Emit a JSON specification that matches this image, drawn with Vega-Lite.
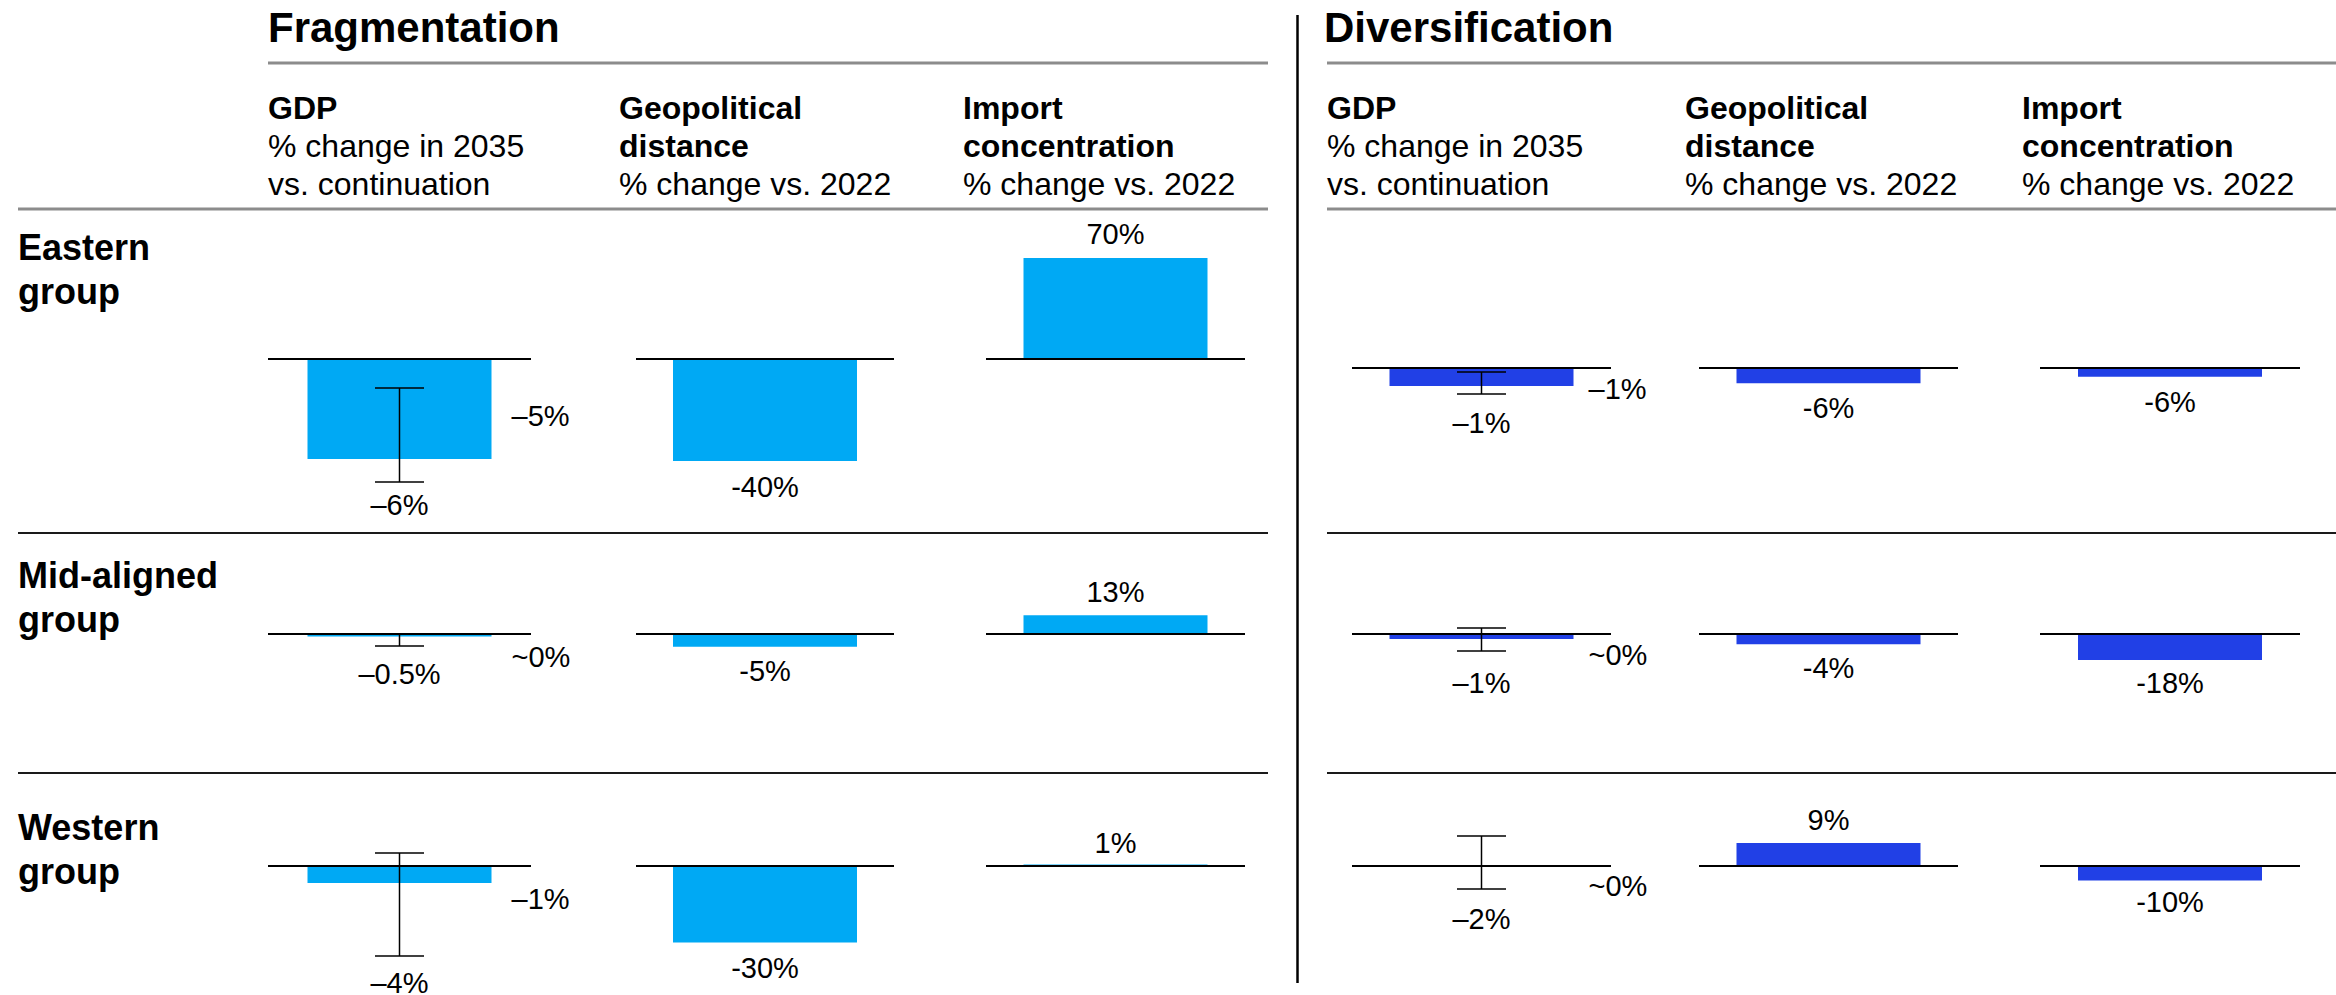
{
"$schema": "https://vega.github.io/schema/vega-lite/v6.json",
"padding": {"left": 16, "top": 0, "right": 0, "bottom": 0},
"columns": 15,
"spacing": 0,
"bounds": "flush",
"align": "each",
"config": {
  "font": "Liberation Sans",
  "view": {"stroke": null},
  "concat": {"spacing": 0},
  "title": {"anchor": "start", "frame": "group", "orient": "top", "font": "Liberation Sans", "subtitleFont": "Liberation Sans", "fontSize": 32, "fontWeight": "bold", "lineHeight": 38, "subtitleFontSize": 32, "subtitleLineHeight": 38, "subtitlePadding": 6, "color": "black", "subtitleColor": "black", "offset": 6}
},
"datasets": {
  "cells": [
    {"panel": "Fragmentation", "group": "Eastern group", "metric": "GDP", "value": -5, "lo": -6.15, "hi": -1.45, "label": "–5%", "lo_label": "–6%"},
    {"panel": "Fragmentation", "group": "Eastern group", "metric": "Geopolitical distance", "value": -40, "label": "-40%"},
    {"panel": "Fragmentation", "group": "Eastern group", "metric": "Import concentration", "value": 70, "label": "70%"},
    {"panel": "Fragmentation", "group": "Mid-aligned group", "metric": "GDP", "value": -0.12, "lo": -0.6, "hi": 0, "label": "~0%", "lo_label": "–0.5%"},
    {"panel": "Fragmentation", "group": "Mid-aligned group", "metric": "Geopolitical distance", "value": -5, "label": "-5%"},
    {"panel": "Fragmentation", "group": "Mid-aligned group", "metric": "Import concentration", "value": 13, "label": "13%"},
    {"panel": "Fragmentation", "group": "Western group", "metric": "GDP", "value": -0.85, "lo": -4.5, "hi": 0.65, "label": "–1%", "lo_label": "–4%"},
    {"panel": "Fragmentation", "group": "Western group", "metric": "Geopolitical distance", "value": -30, "label": "-30%"},
    {"panel": "Fragmentation", "group": "Western group", "metric": "Import concentration", "value": 1, "label": "1%"},
    {"panel": "Diversification", "group": "Eastern group", "metric": "GDP", "value": -0.9, "lo": -1.3, "hi": -0.2, "label": "–1%", "lo_label": "–1%"},
    {"panel": "Diversification", "group": "Eastern group", "metric": "Geopolitical distance", "value": -6, "label": "-6%"},
    {"panel": "Diversification", "group": "Eastern group", "metric": "Import concentration", "value": -6, "label": "-6%"},
    {"panel": "Diversification", "group": "Mid-aligned group", "metric": "GDP", "value": -0.25, "lo": -0.85, "hi": 0.3, "label": "~0%", "lo_label": "–1%"},
    {"panel": "Diversification", "group": "Mid-aligned group", "metric": "Geopolitical distance", "value": -4, "label": "-4%"},
    {"panel": "Diversification", "group": "Mid-aligned group", "metric": "Import concentration", "value": -18, "label": "-18%"},
    {"panel": "Diversification", "group": "Western group", "metric": "GDP", "value": -0.05, "lo": -1.15, "hi": 1.5, "label": "~0%", "lo_label": "–2%"},
    {"panel": "Diversification", "group": "Western group", "metric": "Geopolitical distance", "value": 9, "label": "9%"},
    {"panel": "Diversification", "group": "Western group", "metric": "Import concentration", "value": -10, "label": "-10%"}
  ]
},
"concat": [
  {"width": 250, "height": 15, "data": {"values": []}, "mark": "point"},
  {"width": 263, "height": 15, "data": {"values": []}, "mark": "point"},
  {"width": 105, "height": 15, "data": {"values": []}, "mark": "point"},
  {"width": 258, "height": 15, "data": {"values": []}, "mark": "point"},
  {"width": 92, "height": 15, "data": {"values": []}, "mark": "point"},
  {"width": 259, "height": 15, "data": {"values": []}, "mark": "point"},
  {"width": 23, "height": 15, "data": {"values": []}, "mark": "point"},
  {"width": 59, "height": 15, "data": {"values": []}, "mark": "point"},
  {"width": 25, "height": 15, "data": {"values": []}, "mark": "point"},
  {"width": 259, "height": 15, "data": {"values": []}, "mark": "point"},
  {"width": 88, "height": 15, "data": {"values": []}, "mark": "point"},
  {"width": 259, "height": 15, "data": {"values": []}, "mark": "point"},
  {"width": 82, "height": 15, "data": {"values": []}, "mark": "point"},
  {"width": 260, "height": 15, "data": {"values": []}, "mark": "point"},
  {"width": 38, "height": 15, "data": {"values": []}, "mark": "point"},

  {"width": 250, "height": 48, "data": {"values": []}, "mark": "point"},
  {"width": 263, "height": 48, "data": {"values": []}, "mark": "point"},
  {"width": 105, "height": 48, "data": {"values": []}, "mark": "point"},
  {"width": 258, "height": 48, "data": {"values": []}, "mark": "point"},
  {"width": 92, "height": 48, "data": {"values": []}, "mark": "point"},
  {"width": 259, "height": 48, "data": {"values": []}, "mark": "point"},
  {"width": 23, "height": 48, "data": {"values": []}, "mark": "point"},
  {"width": 59, "height": 48, "data": {"values": [{}]}, "mark": {"type": "rule", "color": "black", "strokeWidth": 2.5}, "encoding": {"x": {"datum": "divider", "type": "nominal", "axis": null}}},
  {"width": 25, "height": 48, "data": {"values": []}, "mark": "point"},
  {"width": 259, "height": 48, "data": {"values": []}, "mark": "point"},
  {"width": 88, "height": 48, "data": {"values": []}, "mark": "point"},
  {"width": 259, "height": 48, "data": {"values": []}, "mark": "point"},
  {"width": 82, "height": 48, "data": {"values": []}, "mark": "point"},
  {"width": 260, "height": 48, "data": {"values": []}, "mark": "point"},
  {"width": 38, "height": 48, "data": {"values": []}, "mark": "point"},

  {"width": 250, "height": 146, "data": {"values": []}, "mark": "point"},
  {"width": 263, "height": 146, "data": {"values": [{}]}, "title": {"text": "Fragmentation", "fontSize": 42, "offset": 11}, "mark": {"type": "rule", "color": "#8c8c8c", "strokeWidth": 3}, "encoding": {"y": {"datum": 1, "type": "quantitative", "scale": {"domain": [0, 1]}, "axis": null}}},
  {"width": 105, "height": 146, "data": {"values": [{}]}, "mark": {"type": "rule", "color": "#8c8c8c", "strokeWidth": 3}, "encoding": {"y": {"datum": 1, "type": "quantitative", "scale": {"domain": [0, 1]}, "axis": null}}},
  {"width": 258, "height": 146, "data": {"values": [{}]}, "mark": {"type": "rule", "color": "#8c8c8c", "strokeWidth": 3}, "encoding": {"y": {"datum": 1, "type": "quantitative", "scale": {"domain": [0, 1]}, "axis": null}}},
  {"width": 92, "height": 146, "data": {"values": [{}]}, "mark": {"type": "rule", "color": "#8c8c8c", "strokeWidth": 3}, "encoding": {"y": {"datum": 1, "type": "quantitative", "scale": {"domain": [0, 1]}, "axis": null}}},
  {"width": 259, "height": 146, "data": {"values": [{}]}, "mark": {"type": "rule", "color": "#8c8c8c", "strokeWidth": 3}, "encoding": {"y": {"datum": 1, "type": "quantitative", "scale": {"domain": [0, 1]}, "axis": null}}},
  {"width": 23, "height": 146, "data": {"values": [{}]}, "mark": {"type": "rule", "color": "#8c8c8c", "strokeWidth": 3}, "encoding": {"y": {"datum": 1, "type": "quantitative", "scale": {"domain": [0, 1]}, "axis": null}}},
  {"width": 59, "height": 146, "data": {"values": [{}]}, "mark": {"type": "rule", "color": "black", "strokeWidth": 2.5}, "encoding": {"x": {"datum": "divider", "type": "nominal", "axis": null}}},
  {"width": 25, "height": 146, "data": {"values": [{}]}, "title": {"text": "Diversification", "fontSize": 42, "offset": 11, "dx": -3}, "mark": {"type": "rule", "color": "#8c8c8c", "strokeWidth": 3}, "encoding": {"y": {"datum": 1, "type": "quantitative", "scale": {"domain": [0, 1]}, "axis": null}}},
  {"width": 259, "height": 146, "data": {"values": [{}]}, "mark": {"type": "rule", "color": "#8c8c8c", "strokeWidth": 3}, "encoding": {"y": {"datum": 1, "type": "quantitative", "scale": {"domain": [0, 1]}, "axis": null}}},
  {"width": 88, "height": 146, "data": {"values": [{}]}, "mark": {"type": "rule", "color": "#8c8c8c", "strokeWidth": 3}, "encoding": {"y": {"datum": 1, "type": "quantitative", "scale": {"domain": [0, 1]}, "axis": null}}},
  {"width": 259, "height": 146, "data": {"values": [{}]}, "mark": {"type": "rule", "color": "#8c8c8c", "strokeWidth": 3}, "encoding": {"y": {"datum": 1, "type": "quantitative", "scale": {"domain": [0, 1]}, "axis": null}}},
  {"width": 82, "height": 146, "data": {"values": [{}]}, "mark": {"type": "rule", "color": "#8c8c8c", "strokeWidth": 3}, "encoding": {"y": {"datum": 1, "type": "quantitative", "scale": {"domain": [0, 1]}, "axis": null}}},
  {"width": 260, "height": 146, "data": {"values": [{}]}, "mark": {"type": "rule", "color": "#8c8c8c", "strokeWidth": 3}, "encoding": {"y": {"datum": 1, "type": "quantitative", "scale": {"domain": [0, 1]}, "axis": null}}},
  {"width": 38, "height": 146, "data": {"values": [{}]}, "mark": {"type": "rule", "color": "#8c8c8c", "strokeWidth": 3}, "encoding": {"y": {"datum": 1, "type": "quantitative", "scale": {"domain": [0, 1]}, "axis": null}}},

  {"width": 250, "height": 324, "data": {"values": [{}]}, "title": {"text": ["Eastern", "group"], "fontSize": 36, "lineHeight": 44, "offset": -104}, "mark": {"type": "rule", "color": "#8c8c8c", "strokeWidth": 3}, "encoding": {"y": {"datum": 1, "type": "quantitative", "scale": {"domain": [0, 1]}, "axis": null}}},
  {"width": 263, "height": 324, "data": {"name": "cells"},
   "transform": [{"filter": "datum.panel==='Fragmentation' && datum.group==='Eastern group' && datum.metric==='GDP'"}],
   "title": {"text": "GDP", "subtitle": ["% change in 2035", "vs. continuation"]},
   "layer": [
    {"mark": {"type": "rule", "color": "#8c8c8c", "strokeWidth": 3}, "encoding": {"y": {"datum": 7.5, "type": "quantitative", "scale": {"domain": [-8.7, 7.5], "nice": false, "zero": false}, "axis": null}}},
    {"mark": {"type": "bar", "color": "#00A9F4", "width": 184}, "encoding": {"x": {"field": "metric", "type": "nominal", "axis": null}, "y": {"field": "value", "type": "quantitative", "scale": {"domain": [-8.7, 7.5], "nice": false, "zero": false}, "axis": null}, "y2": {"datum": 0}}},
    {"mark": {"type": "rule", "color": "black", "strokeWidth": 2}, "encoding": {"y": {"datum": 0, "type": "quantitative", "scale": {"domain": [-8.7, 7.5], "nice": false, "zero": false}, "axis": null}}},
    {"mark": {"type": "rule", "color": "black", "strokeWidth": 1.5}, "encoding": {"x": {"field": "metric", "type": "nominal", "axis": null}, "y": {"field": "lo", "type": "quantitative", "scale": {"domain": [-8.7, 7.5], "nice": false, "zero": false}, "axis": null}, "y2": {"field": "hi"}}},
    {"mark": {"type": "tick", "color": "black", "opacity": 1, "size": 49, "thickness": 1.5, "orient": "horizontal"}, "encoding": {"x": {"field": "metric", "type": "nominal", "axis": null}, "y": {"field": "lo", "type": "quantitative", "scale": {"domain": [-8.7, 7.5], "nice": false, "zero": false}, "axis": null}}},
    {"mark": {"type": "tick", "color": "black", "opacity": 1, "size": 49, "thickness": 1.5, "orient": "horizontal"}, "encoding": {"x": {"field": "metric", "type": "nominal", "axis": null}, "y": {"field": "hi", "type": "quantitative", "scale": {"domain": [-8.7, 7.5], "nice": false, "zero": false}, "axis": null}}},
    {"mark": {"type": "text", "color": "black", "fontSize": 29, "baseline": "alphabetic", "dy": 33}, "encoding": {"x": {"field": "metric", "type": "nominal", "axis": null}, "y": {"field": "lo", "type": "quantitative", "scale": {"domain": [-8.7, 7.5], "nice": false, "zero": false}, "axis": null}, "text": {"field": "lo_label"}}},
    {"mark": {"type": "text", "color": "black", "fontSize": 29, "align": "left", "baseline": "middle", "dx": 112, "dy": -42}, "encoding": {"x": {"field": "metric", "type": "nominal", "axis": null}, "y": {"field": "value", "type": "quantitative", "scale": {"domain": [-8.7, 7.5], "nice": false, "zero": false}, "axis": null}, "text": {"field": "label"}}}
   ]},
  {"width": 105, "height": 324, "data": {"values": [{}]}, "mark": {"type": "rule", "color": "#8c8c8c", "strokeWidth": 3}, "encoding": {"y": {"datum": 1, "type": "quantitative", "scale": {"domain": [0, 1]}, "axis": null}}},
  {"width": 258, "height": 324, "data": {"name": "cells"},
   "transform": [{"filter": "datum.panel==='Fragmentation' && datum.group==='Eastern group' && datum.metric==='Geopolitical distance'"}],
   "title": {"text": ["Geopolitical", "distance"], "subtitle": "% change vs. 2022", "dx": -17},
   "layer": [
    {"mark": {"type": "rule", "color": "#8c8c8c", "strokeWidth": 3}, "encoding": {"y": {"datum": 58.824, "type": "quantitative", "scale": {"domain": [-68.235, 58.824], "nice": false, "zero": false}, "axis": null}}},
    {"mark": {"type": "bar", "color": "#00A9F4", "width": 184}, "encoding": {"x": {"field": "metric", "type": "nominal", "axis": null}, "y": {"field": "value", "type": "quantitative", "scale": {"domain": [-68.235, 58.824], "nice": false, "zero": false}, "axis": null}, "y2": {"datum": 0}}},
    {"mark": {"type": "rule", "color": "black", "strokeWidth": 2}, "encoding": {"y": {"datum": 0, "type": "quantitative", "scale": {"domain": [-68.235, 58.824], "nice": false, "zero": false}, "axis": null}}},
    {"mark": {"type": "text", "color": "black", "fontSize": 29, "baseline": "alphabetic", "dy": 36}, "encoding": {"x": {"field": "metric", "type": "nominal", "axis": null}, "y": {"field": "value", "type": "quantitative", "scale": {"domain": [-68.235, 58.824], "nice": false, "zero": false}, "axis": null}, "text": {"field": "label"}}}
   ]},
  {"width": 92, "height": 324, "data": {"values": [{}]}, "mark": {"type": "rule", "color": "#8c8c8c", "strokeWidth": 3}, "encoding": {"y": {"datum": 1, "type": "quantitative", "scale": {"domain": [0, 1]}, "axis": null}}},
  {"width": 259, "height": 324, "data": {"name": "cells"},
   "transform": [{"filter": "datum.panel==='Fragmentation' && datum.group==='Eastern group' && datum.metric==='Import concentration'"}],
   "title": {"text": ["Import", "concentration"], "subtitle": "% change vs. 2022", "dx": -23},
   "layer": [
    {"mark": {"type": "rule", "color": "#8c8c8c", "strokeWidth": 3}, "encoding": {"y": {"datum": 103.96, "type": "quantitative", "scale": {"domain": [-120.59, 103.96], "nice": false, "zero": false}, "axis": null}}},
    {"mark": {"type": "bar", "color": "#00A9F4", "width": 184}, "encoding": {"x": {"field": "metric", "type": "nominal", "axis": null}, "y": {"field": "value", "type": "quantitative", "scale": {"domain": [-120.59, 103.96], "nice": false, "zero": false}, "axis": null}, "y2": {"datum": 0}}},
    {"mark": {"type": "rule", "color": "black", "strokeWidth": 2}, "encoding": {"y": {"datum": 0, "type": "quantitative", "scale": {"domain": [-120.59, 103.96], "nice": false, "zero": false}, "axis": null}}},
    {"mark": {"type": "text", "color": "black", "fontSize": 29, "baseline": "alphabetic", "dy": -14}, "encoding": {"x": {"field": "metric", "type": "nominal", "axis": null}, "y": {"field": "value", "type": "quantitative", "scale": {"domain": [-120.59, 103.96], "nice": false, "zero": false}, "axis": null}, "text": {"field": "label"}}}
   ]},
  {"width": 23, "height": 324, "data": {"values": [{}]}, "mark": {"type": "rule", "color": "#8c8c8c", "strokeWidth": 3}, "encoding": {"y": {"datum": 1, "type": "quantitative", "scale": {"domain": [0, 1]}, "axis": null}}},
  {"width": 59, "height": 324, "data": {"values": [{}]}, "mark": {"type": "rule", "color": "black", "strokeWidth": 2.5}, "encoding": {"x": {"datum": "divider", "type": "nominal", "axis": null}}},
  {"width": 25, "height": 324, "data": {"values": [{}]}, "mark": {"type": "rule", "color": "#8c8c8c", "strokeWidth": 3}, "encoding": {"y": {"datum": 1, "type": "quantitative", "scale": {"domain": [0, 1]}, "axis": null}}},
  {"width": 259, "height": 324, "data": {"name": "cells"},
   "transform": [{"filter": "datum.panel==='Diversification' && datum.group==='Eastern group' && datum.metric==='GDP'"}],
   "title": {"text": "GDP", "subtitle": ["% change in 2035", "vs. continuation"], "dx": -25},
   "layer": [
    {"mark": {"type": "rule", "color": "#8c8c8c", "strokeWidth": 3}, "encoding": {"y": {"datum": 7.95, "type": "quantitative", "scale": {"domain": [-8.25, 7.95], "nice": false, "zero": false}, "axis": null}}},
    {"mark": {"type": "bar", "color": "#2140E6", "width": 184}, "encoding": {"x": {"field": "metric", "type": "nominal", "axis": null}, "y": {"field": "value", "type": "quantitative", "scale": {"domain": [-8.25, 7.95], "nice": false, "zero": false}, "axis": null}, "y2": {"datum": 0}}},
    {"mark": {"type": "rule", "color": "black", "strokeWidth": 2}, "encoding": {"y": {"datum": 0, "type": "quantitative", "scale": {"domain": [-8.25, 7.95], "nice": false, "zero": false}, "axis": null}}},
    {"mark": {"type": "rule", "color": "black", "strokeWidth": 1.5}, "encoding": {"x": {"field": "metric", "type": "nominal", "axis": null}, "y": {"field": "lo", "type": "quantitative", "scale": {"domain": [-8.25, 7.95], "nice": false, "zero": false}, "axis": null}, "y2": {"field": "hi"}}},
    {"mark": {"type": "tick", "color": "black", "opacity": 1, "size": 49, "thickness": 1.5, "orient": "horizontal"}, "encoding": {"x": {"field": "metric", "type": "nominal", "axis": null}, "y": {"field": "lo", "type": "quantitative", "scale": {"domain": [-8.25, 7.95], "nice": false, "zero": false}, "axis": null}}},
    {"mark": {"type": "tick", "color": "black", "opacity": 1, "size": 49, "thickness": 1.5, "orient": "horizontal"}, "encoding": {"x": {"field": "metric", "type": "nominal", "axis": null}, "y": {"field": "hi", "type": "quantitative", "scale": {"domain": [-8.25, 7.95], "nice": false, "zero": false}, "axis": null}}},
    {"mark": {"type": "text", "color": "black", "fontSize": 29, "baseline": "alphabetic", "dy": 39}, "encoding": {"x": {"field": "metric", "type": "nominal", "axis": null}, "y": {"field": "lo", "type": "quantitative", "scale": {"domain": [-8.25, 7.95], "nice": false, "zero": false}, "axis": null}, "text": {"field": "lo_label"}}},
    {"mark": {"type": "text", "color": "black", "fontSize": 29, "align": "left", "baseline": "middle", "dx": 107, "dy": 4}, "encoding": {"x": {"field": "metric", "type": "nominal", "axis": null}, "y": {"field": "value", "type": "quantitative", "scale": {"domain": [-8.25, 7.95], "nice": false, "zero": false}, "axis": null}, "text": {"field": "label"}}}
   ]},
  {"width": 88, "height": 324, "data": {"values": [{}]}, "mark": {"type": "rule", "color": "#8c8c8c", "strokeWidth": 3}, "encoding": {"y": {"datum": 1, "type": "quantitative", "scale": {"domain": [0, 1]}, "axis": null}}},
  {"width": 259, "height": 324, "data": {"name": "cells"},
   "transform": [{"filter": "datum.panel==='Diversification' && datum.group==='Eastern group' && datum.metric==='Geopolitical distance'"}],
   "title": {"text": ["Geopolitical", "distance"], "subtitle": "% change vs. 2022", "dx": -14},
   "layer": [
    {"mark": {"type": "rule", "color": "#8c8c8c", "strokeWidth": 3}, "encoding": {"y": {"datum": 62.353, "type": "quantitative", "scale": {"domain": [-64.706, 62.353], "nice": false, "zero": false}, "axis": null}}},
    {"mark": {"type": "bar", "color": "#2140E6", "width": 184}, "encoding": {"x": {"field": "metric", "type": "nominal", "axis": null}, "y": {"field": "value", "type": "quantitative", "scale": {"domain": [-64.706, 62.353], "nice": false, "zero": false}, "axis": null}, "y2": {"datum": 0}}},
    {"mark": {"type": "rule", "color": "black", "strokeWidth": 2}, "encoding": {"y": {"datum": 0, "type": "quantitative", "scale": {"domain": [-64.706, 62.353], "nice": false, "zero": false}, "axis": null}}},
    {"mark": {"type": "text", "color": "black", "fontSize": 29, "baseline": "alphabetic", "dy": 35}, "encoding": {"x": {"field": "metric", "type": "nominal", "axis": null}, "y": {"field": "value", "type": "quantitative", "scale": {"domain": [-64.706, 62.353], "nice": false, "zero": false}, "axis": null}, "text": {"field": "label"}}}
   ]},
  {"width": 82, "height": 324, "data": {"values": [{}]}, "mark": {"type": "rule", "color": "#8c8c8c", "strokeWidth": 3}, "encoding": {"y": {"datum": 1, "type": "quantitative", "scale": {"domain": [0, 1]}, "axis": null}}},
  {"width": 260, "height": 324, "data": {"name": "cells"},
   "transform": [{"filter": "datum.panel==='Diversification' && datum.group==='Eastern group' && datum.metric==='Import concentration'"}],
   "title": {"text": ["Import", "concentration"], "subtitle": "% change vs. 2022", "dx": -18},
   "layer": [
    {"mark": {"type": "rule", "color": "#8c8c8c", "strokeWidth": 3}, "encoding": {"y": {"datum": 110.2, "type": "quantitative", "scale": {"domain": [-114.36, 110.2], "nice": false, "zero": false}, "axis": null}}},
    {"mark": {"type": "bar", "color": "#2140E6", "width": 184}, "encoding": {"x": {"field": "metric", "type": "nominal", "axis": null}, "y": {"field": "value", "type": "quantitative", "scale": {"domain": [-114.36, 110.2], "nice": false, "zero": false}, "axis": null}, "y2": {"datum": 0}}},
    {"mark": {"type": "rule", "color": "black", "strokeWidth": 2}, "encoding": {"y": {"datum": 0, "type": "quantitative", "scale": {"domain": [-114.36, 110.2], "nice": false, "zero": false}, "axis": null}}},
    {"mark": {"type": "text", "color": "black", "fontSize": 29, "baseline": "alphabetic", "dy": 35}, "encoding": {"x": {"field": "metric", "type": "nominal", "axis": null}, "y": {"field": "value", "type": "quantitative", "scale": {"domain": [-114.36, 110.2], "nice": false, "zero": false}, "axis": null}, "text": {"field": "label"}}}
   ]},
  {"width": 38, "height": 324, "data": {"values": [{}]}, "mark": {"type": "rule", "color": "#8c8c8c", "strokeWidth": 3}, "encoding": {"y": {"datum": 1, "type": "quantitative", "scale": {"domain": [0, 1]}, "axis": null}}},

  {"width": 250, "height": 240, "data": {"values": [{}]}, "title": {"text": ["Mid-aligned", "group"], "fontSize": 36, "lineHeight": 44, "offset": -108}, "mark": {"type": "rule", "color": "#1a1a1a", "strokeWidth": 2}, "encoding": {"y": {"datum": 1, "type": "quantitative", "scale": {"domain": [0, 1]}, "axis": null}}},
  {"width": 263, "height": 240, "data": {"name": "cells"},
   "transform": [{"filter": "datum.panel==='Fragmentation' && datum.group==='Mid-aligned group' && datum.metric==='GDP'"}],
   "layer": [
    {"mark": {"type": "rule", "color": "#1a1a1a", "strokeWidth": 2}, "encoding": {"y": {"datum": 5.05, "type": "quantitative", "scale": {"domain": [-6.95, 5.05], "nice": false, "zero": false}, "axis": null}}},
    {"mark": {"type": "bar", "color": "#00A9F4", "width": 184}, "encoding": {"x": {"field": "metric", "type": "nominal", "axis": null}, "y": {"field": "value", "type": "quantitative", "scale": {"domain": [-6.95, 5.05], "nice": false, "zero": false}, "axis": null}, "y2": {"datum": 0}}},
    {"mark": {"type": "rule", "color": "black", "strokeWidth": 2}, "encoding": {"y": {"datum": 0, "type": "quantitative", "scale": {"domain": [-6.95, 5.05], "nice": false, "zero": false}, "axis": null}}},
    {"mark": {"type": "rule", "color": "black", "strokeWidth": 1.5}, "encoding": {"x": {"field": "metric", "type": "nominal", "axis": null}, "y": {"field": "lo", "type": "quantitative", "scale": {"domain": [-6.95, 5.05], "nice": false, "zero": false}, "axis": null}, "y2": {"field": "hi"}}},
    {"mark": {"type": "tick", "color": "black", "opacity": 1, "size": 49, "thickness": 1.5, "orient": "horizontal"}, "encoding": {"x": {"field": "metric", "type": "nominal", "axis": null}, "y": {"field": "lo", "type": "quantitative", "scale": {"domain": [-6.95, 5.05], "nice": false, "zero": false}, "axis": null}}},
    {"mark": {"type": "text", "color": "black", "fontSize": 29, "baseline": "alphabetic", "dy": 38}, "encoding": {"x": {"field": "metric", "type": "nominal", "axis": null}, "y": {"field": "lo", "type": "quantitative", "scale": {"domain": [-6.95, 5.05], "nice": false, "zero": false}, "axis": null}, "text": {"field": "lo_label"}}},
    {"mark": {"type": "text", "color": "black", "fontSize": 29, "align": "left", "baseline": "middle", "dx": 112, "dy": 22}, "encoding": {"x": {"field": "metric", "type": "nominal", "axis": null}, "y": {"field": "value", "type": "quantitative", "scale": {"domain": [-6.95, 5.05], "nice": false, "zero": false}, "axis": null}, "text": {"field": "label"}}}
   ]},
  {"width": 105, "height": 240, "data": {"values": [{}]}, "mark": {"type": "rule", "color": "#1a1a1a", "strokeWidth": 2}, "encoding": {"y": {"datum": 1, "type": "quantitative", "scale": {"domain": [0, 1]}, "axis": null}}},
  {"width": 258, "height": 240, "data": {"name": "cells"},
   "transform": [{"filter": "datum.panel==='Fragmentation' && datum.group==='Mid-aligned group' && datum.metric==='Geopolitical distance'"}],
   "layer": [
    {"mark": {"type": "rule", "color": "#1a1a1a", "strokeWidth": 2}, "encoding": {"y": {"datum": 39.608, "type": "quantitative", "scale": {"domain": [-54.51, 39.608], "nice": false, "zero": false}, "axis": null}}},
    {"mark": {"type": "bar", "color": "#00A9F4", "width": 184}, "encoding": {"x": {"field": "metric", "type": "nominal", "axis": null}, "y": {"field": "value", "type": "quantitative", "scale": {"domain": [-54.51, 39.608], "nice": false, "zero": false}, "axis": null}, "y2": {"datum": 0}}},
    {"mark": {"type": "rule", "color": "black", "strokeWidth": 2}, "encoding": {"y": {"datum": 0, "type": "quantitative", "scale": {"domain": [-54.51, 39.608], "nice": false, "zero": false}, "axis": null}}},
    {"mark": {"type": "text", "color": "black", "fontSize": 29, "baseline": "alphabetic", "dy": 34}, "encoding": {"x": {"field": "metric", "type": "nominal", "axis": null}, "y": {"field": "value", "type": "quantitative", "scale": {"domain": [-54.51, 39.608], "nice": false, "zero": false}, "axis": null}, "text": {"field": "label"}}}
   ]},
  {"width": 92, "height": 240, "data": {"values": [{}]}, "mark": {"type": "rule", "color": "#1a1a1a", "strokeWidth": 2}, "encoding": {"y": {"datum": 1, "type": "quantitative", "scale": {"domain": [0, 1]}, "axis": null}}},
  {"width": 259, "height": 240, "data": {"name": "cells"},
   "transform": [{"filter": "datum.panel==='Fragmentation' && datum.group==='Mid-aligned group' && datum.metric==='Import concentration'"}],
   "layer": [
    {"mark": {"type": "rule", "color": "#1a1a1a", "strokeWidth": 2}, "encoding": {"y": {"datum": 70, "type": "quantitative", "scale": {"domain": [-96.34, 70], "nice": false, "zero": false}, "axis": null}}},
    {"mark": {"type": "bar", "color": "#00A9F4", "width": 184}, "encoding": {"x": {"field": "metric", "type": "nominal", "axis": null}, "y": {"field": "value", "type": "quantitative", "scale": {"domain": [-96.34, 70], "nice": false, "zero": false}, "axis": null}, "y2": {"datum": 0}}},
    {"mark": {"type": "rule", "color": "black", "strokeWidth": 2}, "encoding": {"y": {"datum": 0, "type": "quantitative", "scale": {"domain": [-96.34, 70], "nice": false, "zero": false}, "axis": null}}},
    {"mark": {"type": "text", "color": "black", "fontSize": 29, "baseline": "alphabetic", "dy": -13}, "encoding": {"x": {"field": "metric", "type": "nominal", "axis": null}, "y": {"field": "value", "type": "quantitative", "scale": {"domain": [-96.34, 70], "nice": false, "zero": false}, "axis": null}, "text": {"field": "label"}}}
   ]},
  {"width": 23, "height": 240, "data": {"values": [{}]}, "mark": {"type": "rule", "color": "#1a1a1a", "strokeWidth": 2}, "encoding": {"y": {"datum": 1, "type": "quantitative", "scale": {"domain": [0, 1]}, "axis": null}}},
  {"width": 59, "height": 240, "data": {"values": [{}]}, "mark": {"type": "rule", "color": "black", "strokeWidth": 2.5}, "encoding": {"x": {"datum": "divider", "type": "nominal", "axis": null}}},
  {"width": 25, "height": 240, "data": {"values": [{}]}, "mark": {"type": "rule", "color": "#1a1a1a", "strokeWidth": 2}, "encoding": {"y": {"datum": 1, "type": "quantitative", "scale": {"domain": [0, 1]}, "axis": null}}},
  {"width": 259, "height": 240, "data": {"name": "cells"},
   "transform": [{"filter": "datum.panel==='Diversification' && datum.group==='Mid-aligned group' && datum.metric==='GDP'"}],
   "layer": [
    {"mark": {"type": "rule", "color": "#1a1a1a", "strokeWidth": 2}, "encoding": {"y": {"datum": 5.05, "type": "quantitative", "scale": {"domain": [-6.95, 5.05], "nice": false, "zero": false}, "axis": null}}},
    {"mark": {"type": "bar", "color": "#2140E6", "width": 184}, "encoding": {"x": {"field": "metric", "type": "nominal", "axis": null}, "y": {"field": "value", "type": "quantitative", "scale": {"domain": [-6.95, 5.05], "nice": false, "zero": false}, "axis": null}, "y2": {"datum": 0}}},
    {"mark": {"type": "rule", "color": "black", "strokeWidth": 2}, "encoding": {"y": {"datum": 0, "type": "quantitative", "scale": {"domain": [-6.95, 5.05], "nice": false, "zero": false}, "axis": null}}},
    {"mark": {"type": "rule", "color": "black", "strokeWidth": 1.5}, "encoding": {"x": {"field": "metric", "type": "nominal", "axis": null}, "y": {"field": "lo", "type": "quantitative", "scale": {"domain": [-6.95, 5.05], "nice": false, "zero": false}, "axis": null}, "y2": {"field": "hi"}}},
    {"mark": {"type": "tick", "color": "black", "opacity": 1, "size": 49, "thickness": 1.5, "orient": "horizontal"}, "encoding": {"x": {"field": "metric", "type": "nominal", "axis": null}, "y": {"field": "lo", "type": "quantitative", "scale": {"domain": [-6.95, 5.05], "nice": false, "zero": false}, "axis": null}}},
    {"mark": {"type": "tick", "color": "black", "opacity": 1, "size": 49, "thickness": 1.5, "orient": "horizontal"}, "encoding": {"x": {"field": "metric", "type": "nominal", "axis": null}, "y": {"field": "hi", "type": "quantitative", "scale": {"domain": [-6.95, 5.05], "nice": false, "zero": false}, "axis": null}}},
    {"mark": {"type": "text", "color": "black", "fontSize": 29, "baseline": "alphabetic", "dy": 42}, "encoding": {"x": {"field": "metric", "type": "nominal", "axis": null}, "y": {"field": "lo", "type": "quantitative", "scale": {"domain": [-6.95, 5.05], "nice": false, "zero": false}, "axis": null}, "text": {"field": "lo_label"}}},
    {"mark": {"type": "text", "color": "black", "fontSize": 29, "align": "left", "baseline": "middle", "dx": 107, "dy": 17}, "encoding": {"x": {"field": "metric", "type": "nominal", "axis": null}, "y": {"field": "value", "type": "quantitative", "scale": {"domain": [-6.95, 5.05], "nice": false, "zero": false}, "axis": null}, "text": {"field": "label"}}}
   ]},
  {"width": 88, "height": 240, "data": {"values": [{}]}, "mark": {"type": "rule", "color": "#1a1a1a", "strokeWidth": 2}, "encoding": {"y": {"datum": 1, "type": "quantitative", "scale": {"domain": [0, 1]}, "axis": null}}},
  {"width": 259, "height": 240, "data": {"name": "cells"},
   "transform": [{"filter": "datum.panel==='Diversification' && datum.group==='Mid-aligned group' && datum.metric==='Geopolitical distance'"}],
   "layer": [
    {"mark": {"type": "rule", "color": "#1a1a1a", "strokeWidth": 2}, "encoding": {"y": {"datum": 39.608, "type": "quantitative", "scale": {"domain": [-54.51, 39.608], "nice": false, "zero": false}, "axis": null}}},
    {"mark": {"type": "bar", "color": "#2140E6", "width": 184}, "encoding": {"x": {"field": "metric", "type": "nominal", "axis": null}, "y": {"field": "value", "type": "quantitative", "scale": {"domain": [-54.51, 39.608], "nice": false, "zero": false}, "axis": null}, "y2": {"datum": 0}}},
    {"mark": {"type": "rule", "color": "black", "strokeWidth": 2}, "encoding": {"y": {"datum": 0, "type": "quantitative", "scale": {"domain": [-54.51, 39.608], "nice": false, "zero": false}, "axis": null}}},
    {"mark": {"type": "text", "color": "black", "fontSize": 29, "baseline": "alphabetic", "dy": 34}, "encoding": {"x": {"field": "metric", "type": "nominal", "axis": null}, "y": {"field": "value", "type": "quantitative", "scale": {"domain": [-54.51, 39.608], "nice": false, "zero": false}, "axis": null}, "text": {"field": "label"}}}
   ]},
  {"width": 82, "height": 240, "data": {"values": [{}]}, "mark": {"type": "rule", "color": "#1a1a1a", "strokeWidth": 2}, "encoding": {"y": {"datum": 1, "type": "quantitative", "scale": {"domain": [0, 1]}, "axis": null}}},
  {"width": 260, "height": 240, "data": {"name": "cells"},
   "transform": [{"filter": "datum.panel==='Diversification' && datum.group==='Mid-aligned group' && datum.metric==='Import concentration'"}],
   "layer": [
    {"mark": {"type": "rule", "color": "#1a1a1a", "strokeWidth": 2}, "encoding": {"y": {"datum": 70, "type": "quantitative", "scale": {"domain": [-96.34, 70], "nice": false, "zero": false}, "axis": null}}},
    {"mark": {"type": "bar", "color": "#2140E6", "width": 184}, "encoding": {"x": {"field": "metric", "type": "nominal", "axis": null}, "y": {"field": "value", "type": "quantitative", "scale": {"domain": [-96.34, 70], "nice": false, "zero": false}, "axis": null}, "y2": {"datum": 0}}},
    {"mark": {"type": "rule", "color": "black", "strokeWidth": 2}, "encoding": {"y": {"datum": 0, "type": "quantitative", "scale": {"domain": [-96.34, 70], "nice": false, "zero": false}, "axis": null}}},
    {"mark": {"type": "text", "color": "black", "fontSize": 29, "baseline": "alphabetic", "dy": 33}, "encoding": {"x": {"field": "metric", "type": "nominal", "axis": null}, "y": {"field": "value", "type": "quantitative", "scale": {"domain": [-96.34, 70], "nice": false, "zero": false}, "axis": null}, "text": {"field": "label"}}}
   ]},
  {"width": 38, "height": 240, "data": {"values": [{}]}, "mark": {"type": "rule", "color": "#1a1a1a", "strokeWidth": 2}, "encoding": {"y": {"datum": 1, "type": "quantitative", "scale": {"domain": [0, 1]}, "axis": null}}},

  {"width": 250, "height": 210, "data": {"values": [{}]}, "title": {"text": ["Western", "group"], "fontSize": 36, "lineHeight": 44, "offset": -120}, "mark": {"type": "rule", "color": "#1a1a1a", "strokeWidth": 2}, "encoding": {"y": {"datum": 1, "type": "quantitative", "scale": {"domain": [0, 1]}, "axis": null}}},
  {"width": 263, "height": 210, "data": {"name": "cells"},
   "transform": [{"filter": "datum.panel==='Fragmentation' && datum.group==='Western group' && datum.metric==='GDP'"}],
   "layer": [
    {"mark": {"type": "rule", "color": "#1a1a1a", "strokeWidth": 2}, "encoding": {"y": {"datum": 4.65, "type": "quantitative", "scale": {"domain": [-5.85, 4.65], "nice": false, "zero": false}, "axis": null}}},
    {"mark": {"type": "bar", "color": "#00A9F4", "width": 184}, "encoding": {"x": {"field": "metric", "type": "nominal", "axis": null}, "y": {"field": "value", "type": "quantitative", "scale": {"domain": [-5.85, 4.65], "nice": false, "zero": false}, "axis": null}, "y2": {"datum": 0}}},
    {"mark": {"type": "rule", "color": "black", "strokeWidth": 2}, "encoding": {"y": {"datum": 0, "type": "quantitative", "scale": {"domain": [-5.85, 4.65], "nice": false, "zero": false}, "axis": null}}},
    {"mark": {"type": "rule", "color": "black", "strokeWidth": 1.5}, "encoding": {"x": {"field": "metric", "type": "nominal", "axis": null}, "y": {"field": "lo", "type": "quantitative", "scale": {"domain": [-5.85, 4.65], "nice": false, "zero": false}, "axis": null}, "y2": {"field": "hi"}}},
    {"mark": {"type": "tick", "color": "black", "opacity": 1, "size": 49, "thickness": 1.5, "orient": "horizontal"}, "encoding": {"x": {"field": "metric", "type": "nominal", "axis": null}, "y": {"field": "lo", "type": "quantitative", "scale": {"domain": [-5.85, 4.65], "nice": false, "zero": false}, "axis": null}}},
    {"mark": {"type": "tick", "color": "black", "opacity": 1, "size": 49, "thickness": 1.5, "orient": "horizontal"}, "encoding": {"x": {"field": "metric", "type": "nominal", "axis": null}, "y": {"field": "hi", "type": "quantitative", "scale": {"domain": [-5.85, 4.65], "nice": false, "zero": false}, "axis": null}}},
    {"mark": {"type": "text", "color": "black", "fontSize": 29, "baseline": "alphabetic", "dy": 37}, "encoding": {"x": {"field": "metric", "type": "nominal", "axis": null}, "y": {"field": "lo", "type": "quantitative", "scale": {"domain": [-5.85, 4.65], "nice": false, "zero": false}, "axis": null}, "text": {"field": "lo_label"}}},
    {"mark": {"type": "text", "color": "black", "fontSize": 29, "align": "left", "baseline": "middle", "dx": 112, "dy": 17}, "encoding": {"x": {"field": "metric", "type": "nominal", "axis": null}, "y": {"field": "value", "type": "quantitative", "scale": {"domain": [-5.85, 4.65], "nice": false, "zero": false}, "axis": null}, "text": {"field": "label"}}}
   ]},
  {"width": 105, "height": 210, "data": {"values": [{}]}, "mark": {"type": "rule", "color": "#1a1a1a", "strokeWidth": 2}, "encoding": {"y": {"datum": 1, "type": "quantitative", "scale": {"domain": [0, 1]}, "axis": null}}},
  {"width": 258, "height": 210, "data": {"name": "cells"},
   "transform": [{"filter": "datum.panel==='Fragmentation' && datum.group==='Western group' && datum.metric==='Geopolitical distance'"}],
   "layer": [
    {"mark": {"type": "rule", "color": "#1a1a1a", "strokeWidth": 2}, "encoding": {"y": {"datum": 36.471, "type": "quantitative", "scale": {"domain": [-45.882, 36.471], "nice": false, "zero": false}, "axis": null}}},
    {"mark": {"type": "bar", "color": "#00A9F4", "width": 184}, "encoding": {"x": {"field": "metric", "type": "nominal", "axis": null}, "y": {"field": "value", "type": "quantitative", "scale": {"domain": [-45.882, 36.471], "nice": false, "zero": false}, "axis": null}, "y2": {"datum": 0}}},
    {"mark": {"type": "rule", "color": "black", "strokeWidth": 2}, "encoding": {"y": {"datum": 0, "type": "quantitative", "scale": {"domain": [-45.882, 36.471], "nice": false, "zero": false}, "axis": null}}},
    {"mark": {"type": "text", "color": "black", "fontSize": 29, "baseline": "alphabetic", "dy": 35}, "encoding": {"x": {"field": "metric", "type": "nominal", "axis": null}, "y": {"field": "value", "type": "quantitative", "scale": {"domain": [-45.882, 36.471], "nice": false, "zero": false}, "axis": null}, "text": {"field": "label"}}}
   ]},
  {"width": 92, "height": 210, "data": {"values": [{}]}, "mark": {"type": "rule", "color": "#1a1a1a", "strokeWidth": 2}, "encoding": {"y": {"datum": 1, "type": "quantitative", "scale": {"domain": [0, 1]}, "axis": null}}},
  {"width": 259, "height": 210, "data": {"name": "cells"},
   "transform": [{"filter": "datum.panel==='Fragmentation' && datum.group==='Western group' && datum.metric==='Import concentration'"}],
   "layer": [
    {"mark": {"type": "rule", "color": "#1a1a1a", "strokeWidth": 2}, "encoding": {"y": {"datum": 64.46, "type": "quantitative", "scale": {"domain": [-81.089, 64.46], "nice": false, "zero": false}, "axis": null}}},
    {"mark": {"type": "bar", "color": "#00A9F4", "width": 184}, "encoding": {"x": {"field": "metric", "type": "nominal", "axis": null}, "y": {"field": "value", "type": "quantitative", "scale": {"domain": [-81.089, 64.46], "nice": false, "zero": false}, "axis": null}, "y2": {"datum": 0}}},
    {"mark": {"type": "rule", "color": "black", "strokeWidth": 2}, "encoding": {"y": {"datum": 0, "type": "quantitative", "scale": {"domain": [-81.089, 64.46], "nice": false, "zero": false}, "axis": null}}},
    {"mark": {"type": "text", "color": "black", "fontSize": 29, "baseline": "alphabetic", "dy": -12}, "encoding": {"x": {"field": "metric", "type": "nominal", "axis": null}, "y": {"field": "value", "type": "quantitative", "scale": {"domain": [-81.089, 64.46], "nice": false, "zero": false}, "axis": null}, "text": {"field": "label"}}}
   ]},
  {"width": 23, "height": 210, "data": {"values": [{}]}, "mark": {"type": "rule", "color": "#1a1a1a", "strokeWidth": 2}, "encoding": {"y": {"datum": 1, "type": "quantitative", "scale": {"domain": [0, 1]}, "axis": null}}},
  {"width": 59, "height": 210, "data": {"values": [{}]}, "mark": {"type": "rule", "color": "black", "strokeWidth": 2.5}, "encoding": {"x": {"datum": "divider", "type": "nominal", "axis": null}}},
  {"width": 25, "height": 210, "data": {"values": [{}]}, "mark": {"type": "rule", "color": "#1a1a1a", "strokeWidth": 2}, "encoding": {"y": {"datum": 1, "type": "quantitative", "scale": {"domain": [0, 1]}, "axis": null}}},
  {"width": 259, "height": 210, "data": {"name": "cells"},
   "transform": [{"filter": "datum.panel==='Diversification' && datum.group==='Western group' && datum.metric==='GDP'"}],
   "layer": [
    {"mark": {"type": "rule", "color": "#1a1a1a", "strokeWidth": 2}, "encoding": {"y": {"datum": 4.65, "type": "quantitative", "scale": {"domain": [-5.85, 4.65], "nice": false, "zero": false}, "axis": null}}},
    {"mark": {"type": "bar", "color": "#2140E6", "width": 184}, "encoding": {"x": {"field": "metric", "type": "nominal", "axis": null}, "y": {"field": "value", "type": "quantitative", "scale": {"domain": [-5.85, 4.65], "nice": false, "zero": false}, "axis": null}, "y2": {"datum": 0}}},
    {"mark": {"type": "rule", "color": "black", "strokeWidth": 2}, "encoding": {"y": {"datum": 0, "type": "quantitative", "scale": {"domain": [-5.85, 4.65], "nice": false, "zero": false}, "axis": null}}},
    {"mark": {"type": "rule", "color": "black", "strokeWidth": 1.5}, "encoding": {"x": {"field": "metric", "type": "nominal", "axis": null}, "y": {"field": "lo", "type": "quantitative", "scale": {"domain": [-5.85, 4.65], "nice": false, "zero": false}, "axis": null}, "y2": {"field": "hi"}}},
    {"mark": {"type": "tick", "color": "black", "opacity": 1, "size": 49, "thickness": 1.5, "orient": "horizontal"}, "encoding": {"x": {"field": "metric", "type": "nominal", "axis": null}, "y": {"field": "lo", "type": "quantitative", "scale": {"domain": [-5.85, 4.65], "nice": false, "zero": false}, "axis": null}}},
    {"mark": {"type": "tick", "color": "black", "opacity": 1, "size": 49, "thickness": 1.5, "orient": "horizontal"}, "encoding": {"x": {"field": "metric", "type": "nominal", "axis": null}, "y": {"field": "hi", "type": "quantitative", "scale": {"domain": [-5.85, 4.65], "nice": false, "zero": false}, "axis": null}}},
    {"mark": {"type": "text", "color": "black", "fontSize": 29, "baseline": "alphabetic", "dy": 40}, "encoding": {"x": {"field": "metric", "type": "nominal", "axis": null}, "y": {"field": "lo", "type": "quantitative", "scale": {"domain": [-5.85, 4.65], "nice": false, "zero": false}, "axis": null}, "text": {"field": "lo_label"}}},
    {"mark": {"type": "text", "color": "black", "fontSize": 29, "align": "left", "baseline": "middle", "dx": 107, "dy": 20}, "encoding": {"x": {"field": "metric", "type": "nominal", "axis": null}, "y": {"field": "value", "type": "quantitative", "scale": {"domain": [-5.85, 4.65], "nice": false, "zero": false}, "axis": null}, "text": {"field": "label"}}}
   ]},
  {"width": 88, "height": 210, "data": {"values": [{}]}, "mark": {"type": "rule", "color": "#1a1a1a", "strokeWidth": 2}, "encoding": {"y": {"datum": 1, "type": "quantitative", "scale": {"domain": [0, 1]}, "axis": null}}},
  {"width": 259, "height": 210, "data": {"name": "cells"},
   "transform": [{"filter": "datum.panel==='Diversification' && datum.group==='Western group' && datum.metric==='Geopolitical distance'"}],
   "layer": [
    {"mark": {"type": "rule", "color": "#1a1a1a", "strokeWidth": 2}, "encoding": {"y": {"datum": 36.471, "type": "quantitative", "scale": {"domain": [-45.882, 36.471], "nice": false, "zero": false}, "axis": null}}},
    {"mark": {"type": "bar", "color": "#2140E6", "width": 184}, "encoding": {"x": {"field": "metric", "type": "nominal", "axis": null}, "y": {"field": "value", "type": "quantitative", "scale": {"domain": [-45.882, 36.471], "nice": false, "zero": false}, "axis": null}, "y2": {"datum": 0}}},
    {"mark": {"type": "rule", "color": "black", "strokeWidth": 2}, "encoding": {"y": {"datum": 0, "type": "quantitative", "scale": {"domain": [-45.882, 36.471], "nice": false, "zero": false}, "axis": null}}},
    {"mark": {"type": "text", "color": "black", "fontSize": 29, "baseline": "alphabetic", "dy": -13}, "encoding": {"x": {"field": "metric", "type": "nominal", "axis": null}, "y": {"field": "value", "type": "quantitative", "scale": {"domain": [-45.882, 36.471], "nice": false, "zero": false}, "axis": null}, "text": {"field": "label"}}}
   ]},
  {"width": 82, "height": 210, "data": {"values": [{}]}, "mark": {"type": "rule", "color": "#1a1a1a", "strokeWidth": 2}, "encoding": {"y": {"datum": 1, "type": "quantitative", "scale": {"domain": [0, 1]}, "axis": null}}},
  {"width": 260, "height": 210, "data": {"name": "cells"},
   "transform": [{"filter": "datum.panel==='Diversification' && datum.group==='Western group' && datum.metric==='Import concentration'"}],
   "layer": [
    {"mark": {"type": "rule", "color": "#1a1a1a", "strokeWidth": 2}, "encoding": {"y": {"datum": 64.46, "type": "quantitative", "scale": {"domain": [-81.089, 64.46], "nice": false, "zero": false}, "axis": null}}},
    {"mark": {"type": "bar", "color": "#2140E6", "width": 184}, "encoding": {"x": {"field": "metric", "type": "nominal", "axis": null}, "y": {"field": "value", "type": "quantitative", "scale": {"domain": [-81.089, 64.46], "nice": false, "zero": false}, "axis": null}, "y2": {"datum": 0}}},
    {"mark": {"type": "rule", "color": "black", "strokeWidth": 2}, "encoding": {"y": {"datum": 0, "type": "quantitative", "scale": {"domain": [-81.089, 64.46], "nice": false, "zero": false}, "axis": null}}},
    {"mark": {"type": "text", "color": "black", "fontSize": 29, "baseline": "alphabetic", "dy": 32}, "encoding": {"x": {"field": "metric", "type": "nominal", "axis": null}, "y": {"field": "value", "type": "quantitative", "scale": {"domain": [-81.089, 64.46], "nice": false, "zero": false}, "axis": null}, "text": {"field": "label"}}}
   ]},
  {"width": 38, "height": 210, "data": {"values": [{}]}, "mark": {"type": "rule", "color": "#1a1a1a", "strokeWidth": 2}, "encoding": {"y": {"datum": 1, "type": "quantitative", "scale": {"domain": [0, 1]}, "axis": null}}},

  {"width": 250, "height": 12, "data": {"values": []}, "mark": "point"},
  {"width": 263, "height": 12, "data": {"values": []}, "mark": "point"},
  {"width": 105, "height": 12, "data": {"values": []}, "mark": "point"},
  {"width": 258, "height": 12, "data": {"values": []}, "mark": "point"},
  {"width": 92, "height": 12, "data": {"values": []}, "mark": "point"},
  {"width": 259, "height": 12, "data": {"values": []}, "mark": "point"},
  {"width": 23, "height": 12, "data": {"values": []}, "mark": "point"},
  {"width": 59, "height": 12, "data": {"values": []}, "mark": "point"},
  {"width": 25, "height": 12, "data": {"values": []}, "mark": "point"},
  {"width": 259, "height": 12, "data": {"values": []}, "mark": "point"},
  {"width": 88, "height": 12, "data": {"values": []}, "mark": "point"},
  {"width": 259, "height": 12, "data": {"values": []}, "mark": "point"},
  {"width": 82, "height": 12, "data": {"values": []}, "mark": "point"},
  {"width": 260, "height": 12, "data": {"values": []}, "mark": "point"},
  {"width": 38, "height": 12, "data": {"values": []}, "mark": "point"}
]
}
